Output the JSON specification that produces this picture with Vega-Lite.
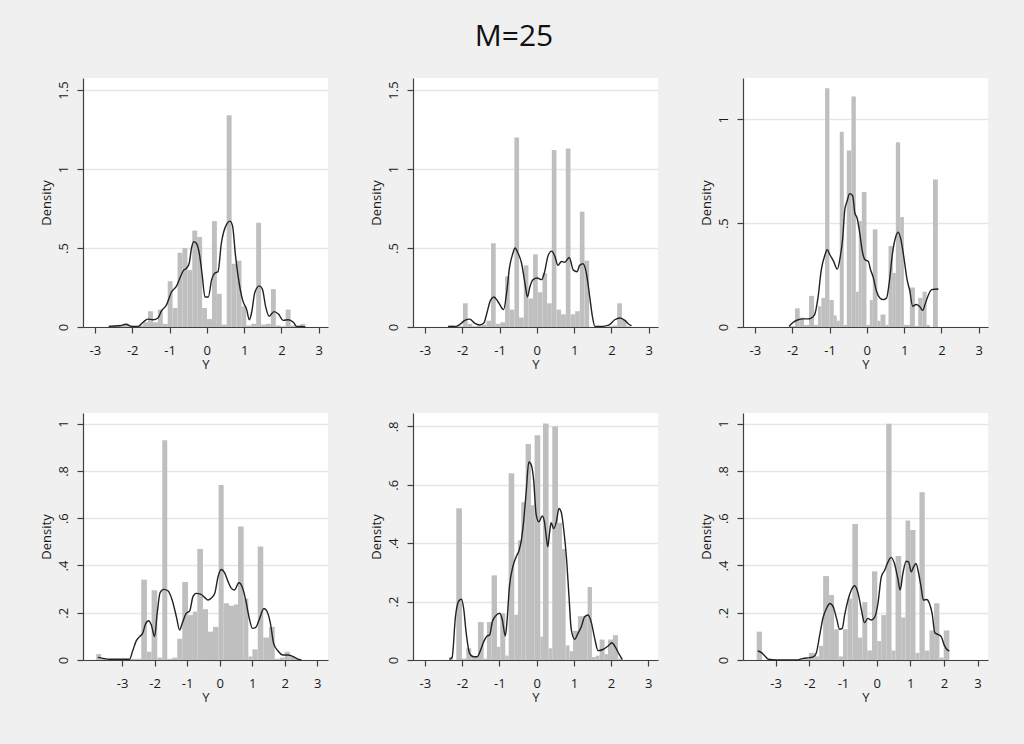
{
"$schema": "https://vega.github.io/schema/vega-lite/v6.json",
"background": "#f0f0f0",
"padding": {"left": 40, "top": 22, "right": 40, "bottom": 50},
"title": {"text": "M=25", "font": "Open Sans", "fontSize": 30, "fontWeight": "normal", "color": "#111111", "anchor": "middle", "offset": 26},
"columns": 3,
"spacing": {"row": 86, "column": 85},
"bounds": "flush",
"datasets": {
"b1": [
{"a":-2.63,"b":-2.498,"d":0.008},{"a":-2.498,"b":-2.366,"d":0.01},{"a":-2.366,"b":-2.235,"d":0.015},{"a":-2.235,"b":-2.103,"d":0.02},{"a":-2.103,"b":-1.971,"d":0.01},{"a":-1.971,"b":-1.839,"d":0},{"a":-1.839,"b":-1.707,"d":0.01},{"a":-1.707,"b":-1.576,"d":0.03},{"a":-1.576,"b":-1.444,"d":0.1},{"a":-1.444,"b":-1.312,"d":0.03},{"a":-1.312,"b":-1.18,"d":0.11},{"a":-1.18,"b":-1.048,"d":0.02},{"a":-1.048,"b":-0.917,"d":0.29},{"a":-0.917,"b":-0.785,"d":0.12},{"a":-0.785,"b":-0.653,"d":0.47},{"a":-0.653,"b":-0.521,"d":0.5},{"a":-0.521,"b":-0.389,"d":0.36},{"a":-0.389,"b":-0.258,"d":0.61},{"a":-0.258,"b":-0.126,"d":0.57},{"a":-0.126,"b":0.006,"d":0.12},{"a":0.006,"b":0.138,"d":0.05},{"a":0.138,"b":0.27,"d":0.67},{"a":0.27,"b":0.401,"d":0.21},{"a":0.401,"b":0.533,"d":0.015},{"a":0.533,"b":0.665,"d":1.34},{"a":0.665,"b":0.797,"d":0.4},{"a":0.797,"b":0.929,"d":0.42},{"a":0.929,"b":1.06,"d":0.13},{"a":1.06,"b":1.192,"d":0.01},{"a":1.192,"b":1.324,"d":0.02},{"a":1.324,"b":1.456,"d":0.66},{"a":1.456,"b":1.588,"d":0.015},{"a":1.588,"b":1.719,"d":0.02},{"a":1.719,"b":1.851,"d":0.24},{"a":1.851,"b":1.983,"d":0.01},{"a":1.983,"b":2.115,"d":0.005},{"a":2.115,"b":2.247,"d":0.11},{"a":2.247,"b":2.378,"d":0.01},{"a":2.378,"b":2.51,"d":0.005},{"a":2.51,"b":2.642,"d":0.02}
],
"k1": [
{"a":-2.63,"d":0.004},{"a":-2.34,"d":0.008},{"a":-2.16,"d":0.017},{"a":-2.02,"d":0.004},{"a":-1.84,"d":0.004},{"a":-1.71,"d":0.03},{"a":-1.58,"d":0.05},{"a":-1.44,"d":0.046},{"a":-1.31,"d":0.057},{"a":-1.22,"d":0.1},{"a":-1.08,"d":0.14},{"a":-0.95,"d":0.22},{"a":-0.81,"d":0.26},{"a":-0.72,"d":0.31},{"a":-0.62,"d":0.36},{"a":-0.55,"d":0.37},{"a":-0.47,"d":0.405},{"a":-0.41,"d":0.5},{"a":-0.35,"d":0.54},{"a":-0.28,"d":0.53},{"a":-0.19,"d":0.45},{"a":-0.12,"d":0.32},{"a":-0.05,"d":0.19},{"a":0.04,"d":0.19},{"a":0.13,"d":0.3},{"a":0.21,"d":0.34},{"a":0.3,"d":0.35},{"a":0.39,"d":0.53},{"a":0.53,"d":0.65},{"a":0.62,"d":0.67},{"a":0.69,"d":0.64},{"a":0.77,"d":0.45},{"a":0.84,"d":0.32},{"a":0.96,"d":0.17},{"a":1.07,"d":0.11},{"a":1.14,"d":0.046},{"a":1.2,"d":0.09},{"a":1.29,"d":0.22},{"a":1.41,"d":0.26},{"a":1.49,"d":0.24},{"a":1.58,"d":0.127},{"a":1.67,"d":0.068},{"a":1.8,"d":0.097},{"a":1.92,"d":0.082},{"a":2.05,"d":0.042},{"a":2.18,"d":0.046},{"a":2.32,"d":0.03},{"a":2.41,"d":0.004},{"a":2.54,"d":0.004},{"a":2.64,"d":0}
],
"b2": [
{"a":-2.355,"b":-2.23,"d":0.01},{"a":-2.23,"b":-2.104,"d":0},{"a":-2.104,"b":-1.979,"d":0.005},{"a":-1.979,"b":-1.854,"d":0.15},{"a":-1.854,"b":-1.729,"d":0.02},{"a":-1.729,"b":-1.603,"d":0.005},{"a":-1.603,"b":-1.478,"d":0.01},{"a":-1.478,"b":-1.353,"d":0.015},{"a":-1.353,"b":-1.227,"d":0.04},{"a":-1.227,"b":-1.102,"d":0.53},{"a":-1.102,"b":-0.977,"d":0.02},{"a":-0.977,"b":-0.851,"d":0.03},{"a":-0.851,"b":-0.726,"d":0.32},{"a":-0.726,"b":-0.601,"d":0.11},{"a":-0.601,"b":-0.476,"d":1.2},{"a":-0.476,"b":-0.35,"d":0.06},{"a":-0.35,"b":-0.225,"d":0.39},{"a":-0.225,"b":-0.1,"d":0.18},{"a":-0.1,"b":0.026,"d":0.46},{"a":0.026,"b":0.151,"d":0.22},{"a":0.151,"b":0.276,"d":0.34},{"a":0.276,"b":0.402,"d":0.15},{"a":0.402,"b":0.527,"d":1.12},{"a":0.527,"b":0.652,"d":0.11},{"a":0.652,"b":0.778,"d":0.08},{"a":0.778,"b":0.903,"d":1.13},{"a":0.903,"b":1.028,"d":0.08},{"a":1.028,"b":1.153,"d":0.1},{"a":1.153,"b":1.279,"d":0.73},{"a":1.279,"b":1.404,"d":0.42},{"a":1.905,"b":2.031,"d":0.005},{"a":2.031,"b":2.156,"d":0.01},{"a":2.156,"b":2.281,"d":0.15},{"a":2.281,"b":2.407,"d":0.045},{"a":2.407,"b":2.532,"d":0.005}
],
"k2": [
{"a":-2.38,"d":0.004},{"a":-2.16,"d":0.004},{"a":-2.07,"d":0.015},{"a":-1.93,"d":0.042},{"a":-1.8,"d":0.05},{"a":-1.67,"d":0.025},{"a":-1.53,"d":0.013},{"a":-1.42,"d":0.025},{"a":-1.35,"d":0.078},{"a":-1.24,"d":0.17},{"a":-1.15,"d":0.19},{"a":-1.04,"d":0.16},{"a":-0.89,"d":0.11},{"a":-0.81,"d":0.215},{"a":-0.73,"d":0.38},{"a":-0.65,"d":0.46},{"a":-0.58,"d":0.5},{"a":-0.51,"d":0.47},{"a":-0.41,"d":0.405},{"a":-0.32,"d":0.28},{"a":-0.25,"d":0.19},{"a":-0.19,"d":0.25},{"a":-0.1,"d":0.3},{"a":0.01,"d":0.31},{"a":0.13,"d":0.3},{"a":0.21,"d":0.35},{"a":0.3,"d":0.45},{"a":0.4,"d":0.48},{"a":0.48,"d":0.45},{"a":0.57,"d":0.39},{"a":0.66,"d":0.415},{"a":0.75,"d":0.41},{"a":0.87,"d":0.44},{"a":0.98,"d":0.36},{"a":1.08,"d":0.35},{"a":1.15,"d":0.39},{"a":1.24,"d":0.4},{"a":1.33,"d":0.34},{"a":1.42,"d":0.19},{"a":1.49,"d":0.068},{"a":1.56,"d":0.004},{"a":1.78,"d":0.004},{"a":1.94,"d":0.013},{"a":2.09,"d":0.046},{"a":2.23,"d":0.057},{"a":2.36,"d":0.042},{"a":2.45,"d":0.021},{"a":2.54,"d":0.008}
],
"b3": [
{"a":-2.086,"b":-1.925,"d":0.005},{"a":-1.925,"b":-1.799,"d":0.09},{"a":-1.799,"b":-1.683,"d":0.045},{"a":-1.683,"b":-1.549,"d":0.01},{"a":-1.549,"b":-1.415,"d":0.15},{"a":-1.415,"b":-1.307,"d":0.01},{"a":-1.307,"b":-1.218,"d":0.1},{"a":-1.218,"b":-1.119,"d":0.14},{"a":-1.119,"b":-1.003,"d":1.15},{"a":-1.003,"b":-0.886,"d":0.13},{"a":-0.886,"b":-0.806,"d":0.055},{"a":-0.806,"b":-0.725,"d":0.03},{"a":-0.725,"b":-0.618,"d":0.94},{"a":-0.618,"b":-0.537,"d":0.01},{"a":-0.537,"b":-0.412,"d":0.85},{"a":-0.412,"b":-0.295,"d":1.11},{"a":-0.295,"b":-0.215,"d":0.17},{"a":-0.215,"b":-0.134,"d":0.51},{"a":-0.134,"b":-0.009,"d":0.65},{"a":-0.009,"b":0.081,"d":0.01},{"a":0.081,"b":0.161,"d":0.13},{"a":0.161,"b":0.286,"d":0.47},{"a":0.286,"b":0.367,"d":0.03},{"a":0.367,"b":0.501,"d":0.06},{"a":0.501,"b":0.582,"d":0.01},{"a":0.582,"b":0.698,"d":0.39},{"a":0.698,"b":0.779,"d":0.26},{"a":0.779,"b":0.895,"d":0.89},{"a":0.895,"b":0.994,"d":0.53},{"a":0.994,"b":1.155,"d":0.01},{"a":1.155,"b":1.289,"d":0.19},{"a":1.289,"b":1.379,"d":0.005},{"a":1.379,"b":1.495,"d":0.14},{"a":1.495,"b":1.603,"d":0.17},{"a":1.603,"b":1.692,"d":0.01},{"a":1.775,"b":1.905,"d":0.71}
],
"k3": [
{"a":-2.086,"d":0.003},{"a":-1.98,"d":0.022},{"a":-1.84,"d":0.035},{"a":-1.71,"d":0.039},{"a":-1.58,"d":0.039},{"a":-1.49,"d":0.043},{"a":-1.4,"d":0.059},{"a":-1.31,"d":0.14},{"a":-1.22,"d":0.276},{"a":-1.13,"d":0.343},{"a":-1.06,"d":0.372},{"a":-0.99,"d":0.348},{"a":-0.89,"d":0.316},{"a":-0.79,"d":0.279},{"a":-0.71,"d":0.34},{"a":-0.65,"d":0.42},{"a":-0.59,"d":0.565},{"a":-0.53,"d":0.605},{"a":-0.46,"d":0.642},{"a":-0.38,"d":0.632},{"a":-0.32,"d":0.549},{"a":-0.26,"d":0.525},{"a":-0.19,"d":0.453},{"a":-0.12,"d":0.364},{"a":-0.05,"d":0.324},{"a":0.04,"d":0.316},{"a":0.1,"d":0.276},{"a":0.17,"d":0.241},{"a":0.26,"d":0.172},{"a":0.35,"d":0.14},{"a":0.44,"d":0.132},{"a":0.53,"d":0.14},{"a":0.6,"d":0.212},{"a":0.69,"d":0.356},{"a":0.78,"d":0.437},{"a":0.84,"d":0.457},{"a":0.91,"d":0.424},{"a":0.99,"d":0.34},{"a":1.08,"d":0.228},{"a":1.15,"d":0.177},{"a":1.23,"d":0.1},{"a":1.32,"d":0.108},{"a":1.41,"d":0.1},{"a":1.5,"d":0.08},{"a":1.56,"d":0.108},{"a":1.63,"d":0.144},{"a":1.74,"d":0.18},{"a":1.92,"d":0.183}
],
"b4": [
{"a":-3.795,"b":-3.641,"d":0.025},{"a":-3.641,"b":-3.487,"d":0.005},{"a":-3.487,"b":-3.333,"d":0.003},{"a":-2.871,"b":-2.717,"d":0.003},{"a":-2.717,"b":-2.563,"d":0.005},{"a":-2.563,"b":-2.41,"d":0.005},{"a":-2.41,"b":-2.236,"d":0.34},{"a":-2.236,"b":-2.092,"d":0.035},{"a":-2.092,"b":-1.918,"d":0.295},{"a":-1.918,"b":-1.764,"d":0.01},{"a":-1.764,"b":-1.61,"d":0.93},{"a":-1.61,"b":-1.456,"d":0.005},{"a":-1.456,"b":-1.303,"d":0.01},{"a":-1.303,"b":-1.149,"d":0.09},{"a":-1.149,"b":-0.974,"d":0.33},{"a":-0.974,"b":-0.821,"d":0.19},{"a":-0.821,"b":-0.687,"d":0.205},{"a":-0.687,"b":-0.513,"d":0.47},{"a":-0.513,"b":-0.359,"d":0.215},{"a":-0.359,"b":-0.205,"d":0.12},{"a":-0.205,"b":-0.031,"d":0.14},{"a":-0.031,"b":0.123,"d":0.74},{"a":0.123,"b":0.287,"d":0.24},{"a":0.287,"b":0.441,"d":0.23},{"a":0.441,"b":0.564,"d":0.235},{"a":0.564,"b":0.738,"d":0.565},{"a":0.738,"b":0.882,"d":0.26},{"a":0.882,"b":1.005,"d":0.015},{"a":1.005,"b":1.17,"d":0.045},{"a":1.17,"b":1.34,"d":0.48},{"a":1.34,"b":1.518,"d":0.095},{"a":1.518,"b":1.692,"d":0.14},{"a":1.692,"b":1.846,"d":0.005},{"a":1.846,"b":2.0,"d":0.01},{"a":2.0,"b":2.154,"d":0.035},{"a":2.154,"b":2.31,"d":0.015},{"a":2.31,"b":2.513,"d":0.005}
],
"k4": [
{"a":-3.74,"d":0.011},{"a":-3.59,"d":0.007},{"a":-3.38,"d":0.003},{"a":-2.77,"d":0.003},{"a":-2.67,"d":0.04},{"a":-2.56,"d":0.082},{"a":-2.46,"d":0.099},{"a":-2.36,"d":0.115},{"a":-2.28,"d":0.152},{"a":-2.18,"d":0.166},{"a":-2.1,"d":0.148},{"a":-2.0,"d":0.099},{"a":-1.92,"d":0.197},{"a":-1.83,"d":0.285},{"a":-1.72,"d":0.299},{"a":-1.59,"d":0.293},{"a":-1.46,"d":0.254},{"a":-1.33,"d":0.183},{"a":-1.23,"d":0.127},{"a":-1.15,"d":0.155},{"a":-1.03,"d":0.197},{"a":-0.92,"d":0.208},{"a":-0.82,"d":0.268},{"a":-0.72,"d":0.282},{"a":-0.59,"d":0.279},{"a":-0.46,"d":0.265},{"a":-0.36,"d":0.254},{"a":-0.26,"d":0.261},{"a":-0.15,"d":0.282},{"a":-0.05,"d":0.352},{"a":0.05,"d":0.383},{"a":0.15,"d":0.37},{"a":0.26,"d":0.331},{"a":0.36,"d":0.303},{"a":0.46,"d":0.296},{"a":0.59,"d":0.327},{"a":0.7,"d":0.307},{"a":0.8,"d":0.254},{"a":0.9,"d":0.183},{"a":1.01,"d":0.134},{"a":1.11,"d":0.138},{"a":1.23,"d":0.176},{"a":1.36,"d":0.218},{"a":1.46,"d":0.204},{"a":1.56,"d":0.155},{"a":1.66,"d":0.07},{"a":1.79,"d":0.039},{"a":1.95,"d":0.021},{"a":2.1,"d":0.021},{"a":2.26,"d":0.014},{"a":2.41,"d":0.004},{"a":2.51,"d":0}
],
"b5": [
{"a":-2.355,"b":-2.247,"d":0.01},{"a":-2.158,"b":-2.005,"d":0.52},{"a":-2.005,"b":-1.889,"d":0.005},{"a":-1.889,"b":-1.755,"d":0.04},{"a":-1.755,"b":-1.576,"d":0.01},{"a":-1.576,"b":-1.423,"d":0.13},{"a":-1.423,"b":-1.334,"d":0.005},{"a":-1.334,"b":-1.209,"d":0.13},{"a":-1.209,"b":-1.065,"d":0.29},{"a":-1.065,"b":-0.976,"d":0.045},{"a":-0.976,"b":-0.842,"d":0.16},{"a":-0.842,"b":-0.752,"d":0.015},{"a":-0.752,"b":-0.6,"d":0.64},{"a":-0.6,"b":-0.501,"d":0.155},{"a":-0.501,"b":-0.412,"d":0.41},{"a":-0.412,"b":-0.295,"d":0.54},{"a":-0.295,"b":-0.152,"d":0.74},{"a":-0.152,"b":-0.054,"d":0.53},{"a":-0.054,"b":0.098,"d":0.77},{"a":0.098,"b":0.17,"d":0.08},{"a":0.17,"b":0.322,"d":0.81},{"a":0.322,"b":0.421,"d":0.04},{"a":0.421,"b":0.573,"d":0.8},{"a":0.573,"b":0.68,"d":0.47},{"a":0.68,"b":0.779,"d":0.38},{"a":0.779,"b":0.886,"d":0.05},{"a":0.886,"b":0.976,"d":0.03},{"a":0.976,"b":1.11,"d":0.1},{"a":1.11,"b":1.244,"d":0.15},{"a":1.244,"b":1.37,"d":0.15},{"a":1.37,"b":1.486,"d":0.25},{"a":1.486,"b":1.585,"d":0.01},{"a":1.585,"b":1.692,"d":0.015},{"a":1.692,"b":1.826,"d":0.07},{"a":1.826,"b":1.916,"d":0.02},{"a":1.916,"b":2.05,"d":0.07},{"a":2.05,"b":2.184,"d":0.085},{"a":2.184,"b":2.319,"d":0.005}
],
"k5": [
{"a":-2.34,"d":0.002},{"a":-2.27,"d":0.009},{"a":-2.18,"d":0.148},{"a":-2.09,"d":0.202},{"a":-2.02,"d":0.208},{"a":-1.96,"d":0.177},{"a":-1.89,"d":0.091},{"a":-1.8,"d":0.023},{"a":-1.69,"d":0.011},{"a":-1.6,"d":0.011},{"a":-1.51,"d":0.032},{"a":-1.42,"d":0.063},{"a":-1.33,"d":0.082},{"a":-1.26,"d":0.086},{"a":-1.19,"d":0.131},{"a":-1.1,"d":0.151},{"a":-0.99,"d":0.16},{"a":-0.92,"d":0.137},{"a":-0.84,"d":0.082},{"a":-0.8,"d":0.125},{"a":-0.73,"d":0.251},{"a":-0.64,"d":0.319},{"a":-0.55,"d":0.353},{"a":-0.47,"d":0.376},{"a":-0.41,"d":0.41},{"a":-0.35,"d":0.473},{"a":-0.28,"d":0.576},{"a":-0.21,"d":0.678},{"a":-0.14,"d":0.667},{"a":-0.08,"d":0.616},{"a":-0.01,"d":0.496},{"a":0.06,"d":0.473},{"a":0.15,"d":0.493},{"a":0.21,"d":0.473},{"a":0.26,"d":0.422},{"a":0.3,"d":0.388},{"a":0.35,"d":0.439},{"a":0.39,"d":0.47},{"a":0.46,"d":0.45},{"a":0.53,"d":0.473},{"a":0.6,"d":0.519},{"a":0.66,"d":0.507},{"a":0.73,"d":0.445},{"a":0.8,"d":0.353},{"a":0.87,"d":0.217},{"a":0.93,"d":0.105},{"a":1.02,"d":0.071},{"a":1.11,"d":0.091},{"a":1.2,"d":0.114},{"a":1.29,"d":0.148},{"a":1.38,"d":0.154},{"a":1.47,"d":0.128},{"a":1.56,"d":0.074},{"a":1.65,"d":0.032},{"a":1.78,"d":0.036},{"a":1.92,"d":0.048},{"a":2.02,"d":0.059},{"a":2.12,"d":0.043},{"a":2.21,"d":0.021},{"a":2.3,"d":0.002}
],
"b6": [
{"a":-3.564,"b":-3.406,"d":0.12},{"a":-2.268,"b":-2.125,"d":0.004},{"a":-2.125,"b":-2.014,"d":0.004},{"a":-2.014,"b":-1.836,"d":0.03},{"a":-1.836,"b":-1.708,"d":0.015},{"a":-1.708,"b":-1.589,"d":0.06},{"a":-1.589,"b":-1.412,"d":0.355},{"a":-1.412,"b":-1.264,"d":0.275},{"a":-1.264,"b":-1.125,"d":0.13},{"a":-1.125,"b":-0.997,"d":0.015},{"a":-0.997,"b":-0.859,"d":0.13},{"a":-0.859,"b":-0.721,"d":0.26},{"a":-0.721,"b":-0.553,"d":0.575},{"a":-0.553,"b":-0.424,"d":0.095},{"a":-0.424,"b":-0.276,"d":0.245},{"a":-0.276,"b":-0.138,"d":0.04},{"a":-0.138,"b":0.02,"d":0.375},{"a":0.02,"b":0.138,"d":0.08},{"a":0.138,"b":0.286,"d":0.19},{"a":0.286,"b":0.444,"d":1.0},{"a":0.444,"b":0.563,"d":0.04},{"a":0.563,"b":0.731,"d":0.44},{"a":0.731,"b":0.859,"d":0.18},{"a":0.859,"b":0.997,"d":0.59},{"a":0.997,"b":1.155,"d":0.55},{"a":1.155,"b":1.273,"d":0.03},{"a":1.273,"b":1.431,"d":0.71},{"a":1.431,"b":1.57,"d":0.04},{"a":1.57,"b":1.708,"d":0.125},{"a":1.708,"b":1.866,"d":0.24},{"a":1.866,"b":1.994,"d":0.01},{"a":1.994,"b":2.162,"d":0.125}
],
"k6": [
{"a":-3.53,"d":0.038},{"a":-3.42,"d":0.031},{"a":-3.32,"d":0.017},{"a":-3.22,"d":0.003},{"a":-2.97,"d":0},{"a":-2.38,"d":0},{"a":-2.18,"d":0.007},{"a":-1.98,"d":0.01},{"a":-1.87,"d":0.014},{"a":-1.79,"d":0.031},{"a":-1.69,"d":0.106},{"a":-1.59,"d":0.18},{"a":-1.49,"d":0.218},{"a":-1.39,"d":0.239},{"a":-1.29,"d":0.225},{"a":-1.19,"d":0.176},{"a":-1.1,"d":0.13},{"a":-1.02,"d":0.134},{"a":-0.95,"d":0.19},{"a":-0.85,"d":0.254},{"a":-0.75,"d":0.296},{"a":-0.65,"d":0.314},{"a":-0.55,"d":0.282},{"a":-0.45,"d":0.211},{"a":-0.36,"d":0.158},{"a":-0.26,"d":0.176},{"a":-0.16,"d":0.169},{"a":-0.06,"d":0.18},{"a":0.04,"d":0.239},{"a":0.14,"d":0.352},{"a":0.24,"d":0.38},{"a":0.34,"d":0.415},{"a":0.43,"d":0.434},{"a":0.53,"d":0.408},{"a":0.63,"d":0.345},{"a":0.7,"d":0.296},{"a":0.78,"d":0.366},{"a":0.88,"d":0.418},{"a":0.95,"d":0.415},{"a":1.03,"d":0.373},{"a":1.1,"d":0.394},{"a":1.17,"d":0.408},{"a":1.25,"d":0.366},{"a":1.32,"d":0.31},{"a":1.39,"d":0.254},{"a":1.49,"d":0.256},{"a":1.57,"d":0.239},{"a":1.65,"d":0.197},{"a":1.73,"d":0.115},{"a":1.82,"d":0.108},{"a":1.92,"d":0.099},{"a":2.01,"d":0.063},{"a":2.11,"d":0.042},{"a":2.16,"d":0.039}
]
},
"concat": [
{"width": 245, "height": 249, "layer": [
 {"data": {"name": "b1"}, "mark": {"type": "rect", "color": "#bfbfbf"}, "encoding": {
  "x": {"field": "a", "type": "quantitative", "title": "Y", "scale": {"domain": [-3.32, 3.25], "nice": false, "zero": false}, "axis": {"values": [-3,-2,-1,0,1,2,3]}},
  "x2": {"field": "b"},
  "y": {"field": "d", "type": "quantitative", "title": "Density", "scale": {"domain": [0, 1.576], "nice": false}, "axis": {"values": [0, 0.5, 1, 1.5]}},
  "y2": {"datum": 0}}},
 {"data": {"name": "k1"}, "mark": {"type": "line", "color": "#222222", "strokeWidth": 1.4, "interpolate": "monotone"}, "encoding": {
  "x": {"field": "a", "type": "quantitative", "title": "Y"},
  "y": {"field": "d", "type": "quantitative", "title": "Density"}}}
]},
{"width": 245, "height": 249, "layer": [
 {"data": {"name": "b2"}, "mark": {"type": "rect", "color": "#bfbfbf"}, "encoding": {
  "x": {"field": "a", "type": "quantitative", "title": "Y", "scale": {"domain": [-3.32, 3.25], "nice": false, "zero": false}, "axis": {"values": [-3,-2,-1,0,1,2,3]}},
  "x2": {"field": "b"},
  "y": {"field": "d", "type": "quantitative", "title": "Density", "scale": {"domain": [0, 1.576], "nice": false}, "axis": {"values": [0, 0.5, 1, 1.5]}},
  "y2": {"datum": 0}}},
 {"data": {"name": "k2"}, "mark": {"type": "line", "color": "#222222", "strokeWidth": 1.4, "interpolate": "monotone"}, "encoding": {
  "x": {"field": "a", "type": "quantitative", "title": "Y"},
  "y": {"field": "d", "type": "quantitative", "title": "Density"}}}
]},
{"width": 245, "height": 249, "layer": [
 {"data": {"name": "b3"}, "mark": {"type": "rect", "color": "#bfbfbf"}, "encoding": {
  "x": {"field": "a", "type": "quantitative", "title": "Y", "scale": {"domain": [-3.32, 3.25], "nice": false, "zero": false}, "axis": {"values": [-3,-2,-1,0,1,2,3]}},
  "x2": {"field": "b"},
  "y": {"field": "d", "type": "quantitative", "title": "Density", "scale": {"domain": [0, 1.199], "nice": false}, "axis": {"values": [0, 0.5, 1]}},
  "y2": {"datum": 0}}},
 {"data": {"name": "k3"}, "mark": {"type": "line", "color": "#222222", "strokeWidth": 1.4, "interpolate": "monotone"}, "encoding": {
  "x": {"field": "a", "type": "quantitative", "title": "Y"},
  "y": {"field": "d", "type": "quantitative", "title": "Density"}}}
]},
{"width": 245, "height": 247, "layer": [
 {"data": {"name": "b4"}, "mark": {"type": "rect", "color": "#bfbfbf"}, "encoding": {
  "x": {"field": "a", "type": "quantitative", "title": "Y", "scale": {"domain": [-4.2, 3.33], "nice": false, "zero": false}, "axis": {"values": [-3,-2,-1,0,1,2,3]}},
  "x2": {"field": "b"},
  "y": {"field": "d", "type": "quantitative", "title": "Density", "scale": {"domain": [0, 1.045], "nice": false}, "axis": {"values": [0, 0.2, 0.4, 0.6, 0.8, 1]}},
  "y2": {"datum": 0}}},
 {"data": {"name": "k4"}, "mark": {"type": "line", "color": "#222222", "strokeWidth": 1.4, "interpolate": "monotone"}, "encoding": {
  "x": {"field": "a", "type": "quantitative", "title": "Y"},
  "y": {"field": "d", "type": "quantitative", "title": "Density"}}}
]},
{"width": 245, "height": 247, "layer": [
 {"data": {"name": "b5"}, "mark": {"type": "rect", "color": "#bfbfbf"}, "encoding": {
  "x": {"field": "a", "type": "quantitative", "title": "Y", "scale": {"domain": [-3.32, 3.26], "nice": false, "zero": false}, "axis": {"values": [-3,-2,-1,0,1,2,3]}},
  "x2": {"field": "b"},
  "y": {"field": "d", "type": "quantitative", "title": "Density", "scale": {"domain": [0, 0.846], "nice": false}, "axis": {"values": [0, 0.2, 0.4, 0.6, 0.8]}},
  "y2": {"datum": 0}}},
 {"data": {"name": "k5"}, "mark": {"type": "line", "color": "#222222", "strokeWidth": 1.4, "interpolate": "monotone"}, "encoding": {
  "x": {"field": "a", "type": "quantitative", "title": "Y"},
  "y": {"field": "d", "type": "quantitative", "title": "Density"}}}
]},
{"width": 245, "height": 247, "layer": [
 {"data": {"name": "b6"}, "mark": {"type": "rect", "color": "#bfbfbf"}, "encoding": {
  "x": {"field": "a", "type": "quantitative", "title": "Y", "scale": {"domain": [-3.97, 3.31], "nice": false, "zero": false}, "axis": {"values": [-3,-2,-1,0,1,2,3]}},
  "x2": {"field": "b"},
  "y": {"field": "d", "type": "quantitative", "title": "Density", "scale": {"domain": [0, 1.045], "nice": false}, "axis": {"values": [0, 0.2, 0.4, 0.6, 0.8, 1]}},
  "y2": {"datum": 0}}},
 {"data": {"name": "k6"}, "mark": {"type": "line", "color": "#222222", "strokeWidth": 1.4, "interpolate": "monotone"}, "encoding": {
  "x": {"field": "a", "type": "quantitative", "title": "Y"},
  "y": {"field": "d", "type": "quantitative", "title": "Density"}}}
]}
],
"config": {
 "view": {"fill": "white", "stroke": null},
 "font": "Open Sans",
 "axis": {"labelFont": "Open Sans", "labelFontSize": 13, "labelColor": "#1a1a1a", "titleFont": "Open Sans", "titleFontSize": 13, "titleFontWeight": "normal", "titleColor": "#1a1a1a", "domainColor": "#404040", "domainWidth": 1.2, "tickColor": "#404040", "tickSize": 6, "tickWidth": 1.2, "gridColor": "#e6e6e6", "gridWidth": 1.5, "labelFlush": false, "labelOverlap": false},
 "axisX": {"grid": false, "labelPadding": 11, "titlePadding": 1.5, "labelExpr": "toString(datum.value)"},
 "axisY": {"grid": true, "labelAngle": -90, "labelAlign": "center", "labelBaseline": "bottom", "labelPadding": 7, "titlePadding": 4, "labelExpr": "datum.value > 0 && datum.value < 1 ? substring(toString(datum.value), 1) : toString(datum.value)"}
}
}
